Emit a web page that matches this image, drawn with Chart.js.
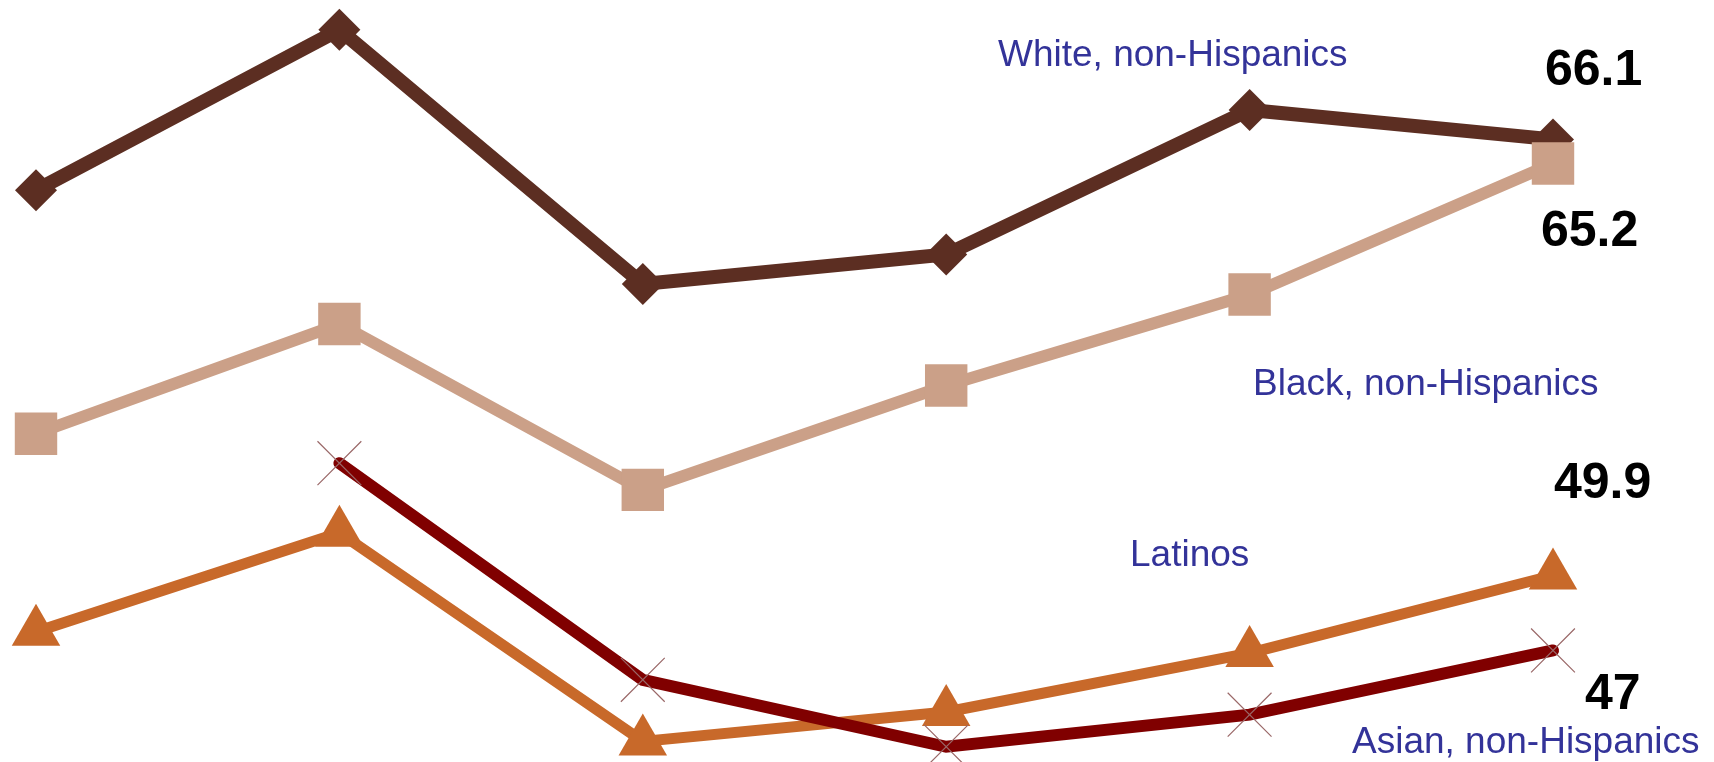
<!DOCTYPE html>
<html>
<head>
<meta charset="utf-8">
<script src="https://cdn.jsdelivr.net/npm/chart.js@4/dist/chart.umd.min.js"></script>
<style>
  html, body { margin: 0; padding: 0; background: #ffffff; }
  #wrap { position: relative; width: 1714px; height: 762px; }
</style>
</head>
<body>
<div id="wrap"><canvas id="c"></canvas></div>
<script>
// ---- data ----
const categories = ['1988', '1992', '1996', '2000', '2004', '2008'];
const whiteValues  = [64.2, 70.2, 60.7, 61.8, 67.2, 66.1];
const blackValues  = [55.1, 59.2, 53.0, 56.9, 60.3, 65.2];
const latinoValues = [47.7, 51.4, 43.6, 44.7, 46.9, 49.8];
const asianValues  = [null, 54.0, 45.9, 43.4, 44.6, 47.0];
const seriesNames = ['White, non-Hispanics', 'Black, non-Hispanics', 'Latinos', 'Asian, non-Hispanics'];
const endLabels = ['66.1', '65.2', '49.9', '47'];

// ---- annotation text layout (pixel positions) ----
const nameLabelPos = [
  { x: 998,  y: 66 },
  { x: 1253, y: 395 },
  { x: 1130, y: 566 },
  { x: 1352, y: 753 }
];
const endLabelPos = [
  { x: 1545, y: 85 },
  { x: 1541, y: 246 },
  { x: 1554, y: 498 },
  { x: 1585, y: 709 }
];

const textPlugin = {
  id: 'textLabels',
  afterDraw(chart) {
    const ctx = chart.ctx;
    ctx.save();
    ctx.textBaseline = 'alphabetic';
    ctx.textAlign = 'left';
    ctx.fillStyle = '#333399';
    ctx.font = '37px "Liberation Sans", Arial, sans-serif';
    seriesNames.forEach((t, i) => ctx.fillText(t, nameLabelPos[i].x, nameLabelPos[i].y));
    ctx.fillStyle = '#000000';
    ctx.font = 'bold 50px "Liberation Sans", Arial, sans-serif';
    endLabels.forEach((t, i) => ctx.fillText(t, endLabelPos[i].x, endLabelPos[i].y));
    ctx.restore();
  }
};

new Chart(document.getElementById('c'), {
  type: 'line',
  data: {
    labels: categories,
    datasets: [
      {
        label: seriesNames[0], data: whiteValues, order: 4,
        borderColor: '#5C2E22', backgroundColor: '#5C2E22', borderWidth: 14,
        pointStyle: 'rectRot', pointRadius: 21, pointBorderWidth: 0,
        pointBackgroundColor: '#5C2E22'
      },
      {
        label: seriesNames[1], data: blackValues, order: 3,
        borderColor: '#CBA088', backgroundColor: '#CBA088', borderWidth: 12,
        pointStyle: 'rect', pointRadius: 30, pointBorderWidth: 0,
        pointBackgroundColor: '#CBA088'
      },
      {
        label: seriesNames[2], data: latinoValues, order: 2,
        borderColor: '#C8692A', backgroundColor: '#C8692A', borderWidth: 11,
        pointStyle: 'triangle', pointRadius: 28, pointBorderWidth: 0,
        pointBackgroundColor: '#C8692A'
      },
      {
        label: seriesNames[3], data: asianValues, order: 1,
        borderColor: '#800000', backgroundColor: '#800000', borderWidth: 12,
        borderCapStyle: 'round',
        pointStyle: 'crossRot', pointRadius: 31, pointBorderWidth: 1.2,
        pointBorderColor: '#9A6868', pointBackgroundColor: '#9A6868'
      }
    ]
  },
  options: {
    responsive: true,
    maintainAspectRatio: false,
    animation: false,
    devicePixelRatio: 1,
    clip: false,
    layout: { autoPadding: false, padding: { left: 36, right: 161, top: 0, bottom: 0 } },
    plugins: { legend: { display: false }, tooltip: { enabled: false } },
    scales: {
      x: { display: false, offset: false },
      y: { display: false, min: 42.83, max: 71.31 }
    }
  },
  plugins: [textPlugin]
});
</script>
</body>
</html>
